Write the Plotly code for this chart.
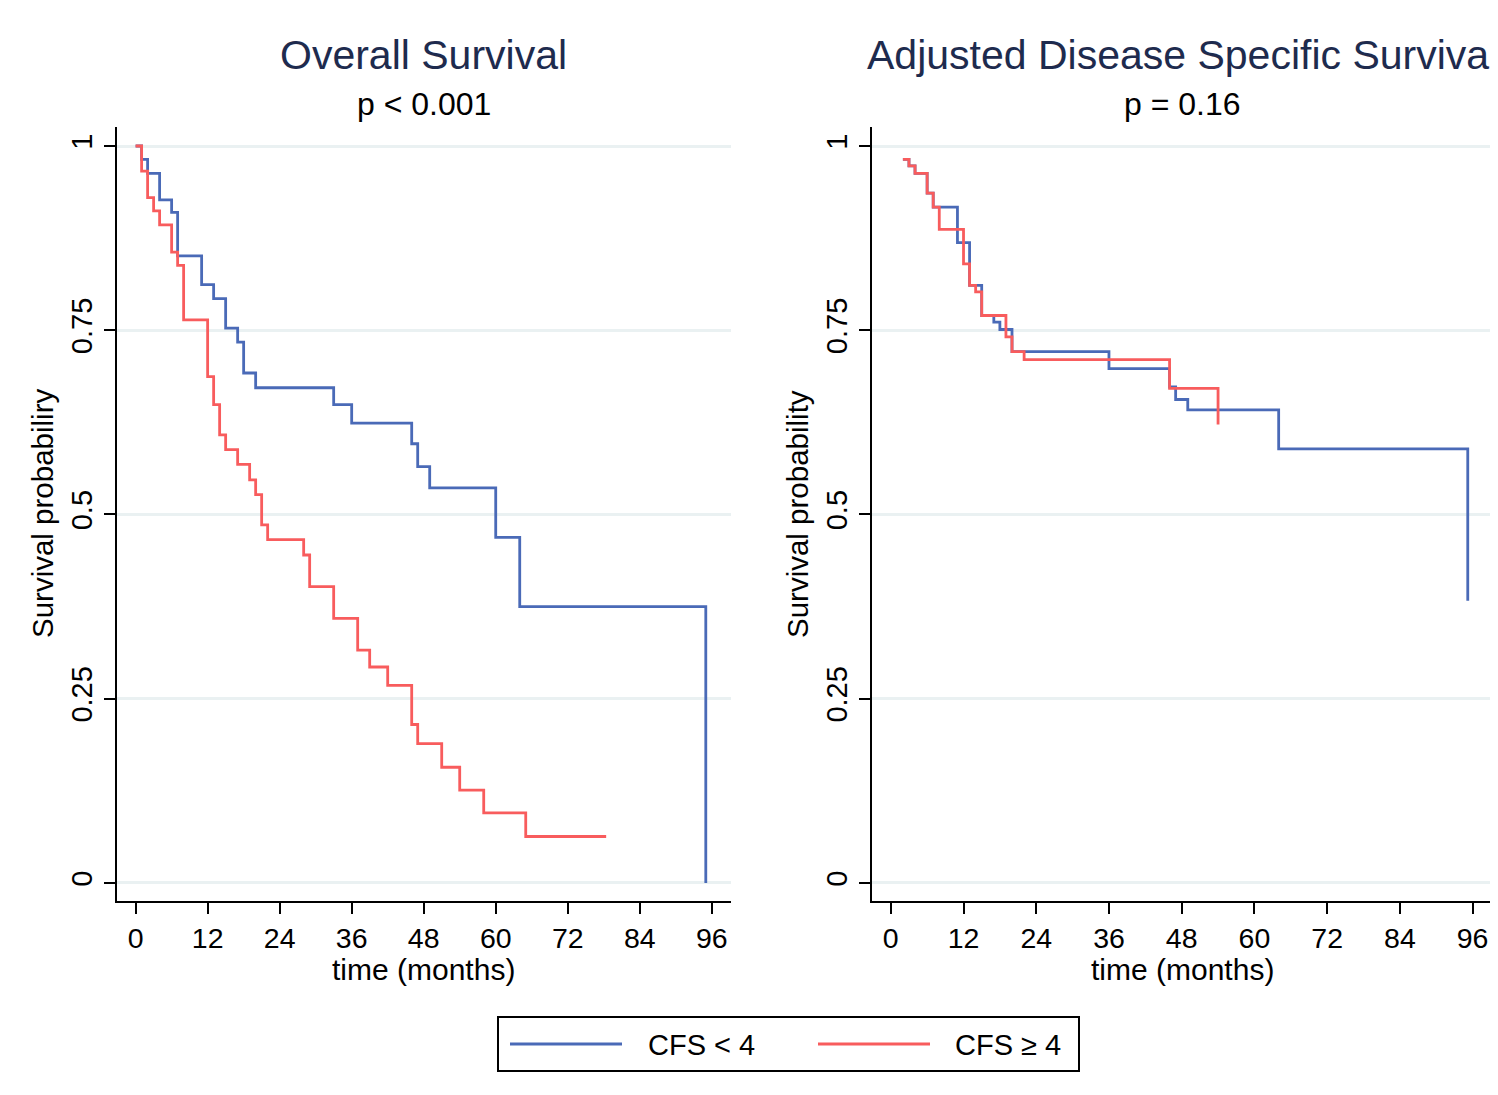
import plotly.graph_objects as go

# ---------------- data ----------------
groups = ["CFS < 4", "CFS \u2265 4"]

os_time_lo = [0, 1, 2, 4, 6, 7, 11, 13, 15, 17, 18, 20, 33, 36, 46, 47, 49, 60, 64, 95]
os_surv_lo = [1, 0.982, 0.963, 0.927, 0.910, 0.851, 0.812, 0.793, 0.753, 0.734,
              0.692, 0.672, 0.649, 0.624, 0.596, 0.565, 0.536, 0.469, 0.375, 0]

os_time_hi = [0, 1, 2, 3, 4, 6, 7, 8, 12, 13, 14, 15, 17, 19, 20, 21, 22, 28, 29,
              33, 37, 39, 42, 46, 47, 51, 54, 58, 65, 78.4]
os_surv_hi = [1, 0.966, 0.930, 0.912, 0.893, 0.856, 0.838, 0.764, 0.687, 0.649,
              0.608, 0.588, 0.568, 0.547, 0.527, 0.486, 0.466, 0.445, 0.402, 0.359,
              0.316, 0.293, 0.268, 0.215, 0.189, 0.157, 0.126, 0.095, 0.063, 0.063]

dss_time_lo = [2, 3, 4, 6, 7, 11, 13, 15, 17, 18, 20, 36, 46, 47, 49, 64, 95.2]
dss_surv_lo = [0.982, 0.973, 0.963, 0.936, 0.917, 0.869, 0.811, 0.770, 0.761, 0.751,
               0.721, 0.698, 0.673, 0.656, 0.642, 0.589, 0.383]

dss_time_hi = [2, 3, 4, 6, 7, 8, 12, 13, 14, 15, 19, 20, 22, 46, 54]
dss_surv_hi = [0.982, 0.973, 0.963, 0.936, 0.917, 0.887, 0.840, 0.811, 0.802, 0.770,
               0.741, 0.721, 0.710, 0.671, 0.622]

x_ticks = [0, 12, 24, 36, 48, 60, 72, 84, 96]
y_ticks = [0, 0.25, 0.5, 0.75, 1]
y_tick_text = ["0", "0.25", "0.5", "0.75", "1"]

titles = ["Overall Survival", "Adjusted Disease Specific Survival"]
pvals = ["p < 0.001", "p = 0.16"]
y_titles = ["Survival probabiliry", "Survival probability"]
x_title = "time (months)"

# ---------------- styling ----------------
REF_W, REF_H = 1498, 1095
OFF = 8                       # page body margin of the browser
W, H = REF_W - OFF, REF_H - OFF
BLUE = "#4A6AB7"
RED = "#F85C5D"
NAVY = "#1E2B4E"
GRID = "#EAF1F2"
FONT = "Liberation Sans, Arial, Helvetica, sans-serif"

def px_x(p):
    return (p - OFF) / W

def px_y(p):
    return (REF_H - p) / H

fig = go.Figure()

fig.add_trace(go.Scatter(x=os_time_lo, y=os_surv_lo, mode="lines", line_shape="hv",
                         line=dict(color=BLUE, width=2.8), name=groups[0],
                         xaxis="x", yaxis="y", showlegend=False))
fig.add_trace(go.Scatter(x=os_time_hi, y=os_surv_hi, mode="lines", line_shape="hv",
                         line=dict(color=RED, width=2.8), name=groups[1],
                         xaxis="x", yaxis="y", showlegend=False))
fig.add_trace(go.Scatter(x=dss_time_lo, y=dss_surv_lo, mode="lines", line_shape="hv",
                         line=dict(color=BLUE, width=2.8), name=groups[0],
                         xaxis="x2", yaxis="y2", showlegend=False))
fig.add_trace(go.Scatter(x=dss_time_hi, y=dss_surv_hi, mode="lines", line_shape="hv",
                         line=dict(color=RED, width=2.8), name=groups[1],
                         xaxis="x2", yaxis="y2", showlegend=False))

ydom = [px_y(901), px_y(127)]
xdom1 = [px_x(117), px_x(731)]
xdom2 = [px_x(872), px_x(1492)]

def xaxis_cfg(dom, anchor):
    return dict(domain=dom, anchor=anchor, range=[-3.1, 99.2],
                tickmode="array", tickvals=x_ticks,
                showline=True, linecolor="black", linewidth=2,
                ticks="outside", ticklen=11, tickwidth=2, tickcolor="black",
                showgrid=False, zeroline=False,
                tickfont=dict(family=FONT, size=28.5, color="black"),
                ticklabelstandoff=0)

def yaxis_cfg(anchor):
    return dict(domain=ydom, anchor=anchor, range=[-0.0245, 1.0258],
                tickmode="array", tickvals=y_ticks, ticktext=y_tick_text,
                tickangle=-90,
                showline=True, linecolor="black", linewidth=2,
                ticks="outside", ticklen=11, tickwidth=2, tickcolor="black",
                showgrid=True, gridcolor=GRID, gridwidth=2.5, zeroline=False,
                tickfont=dict(family=FONT, size=29, color="black"),
                ticklabelstandoff=0)

fig.update_layout(
    width=W, height=H, autosize=False,
    margin=dict(l=0, r=0, t=0, b=0),
    paper_bgcolor="white", plot_bgcolor="white",
    font=dict(family=FONT, color="black"),
    showlegend=False,
    xaxis=xaxis_cfg(xdom1, "y"),
    yaxis=yaxis_cfg("x"),
    xaxis2=xaxis_cfg(xdom2, "y2"),
    yaxis2=yaxis_cfg("x2"),
)

annotations = []
centers = [424, 1182]
ytitle_x = [42, 797]
for i in range(2):
    annotations.append(dict(text=titles[i], x=px_x(centers[i]), y=px_y(55),
                            xref="paper", yref="paper", showarrow=False,
                            xanchor="center", yanchor="middle",
                            font=dict(family=FONT, size=41, color=NAVY)))
    annotations.append(dict(text=pvals[i], x=px_x(centers[i]), y=px_y(104),
                            xref="paper", yref="paper", showarrow=False,
                            xanchor="center", yanchor="middle",
                            font=dict(family=FONT, size=32, color="black")))
    annotations.append(dict(text=x_title, x=px_x(centers[i]), y=px_y(969),
                            xref="paper", yref="paper", showarrow=False,
                            xanchor="center", yanchor="middle",
                            font=dict(family=FONT, size=30, color="black")))
    annotations.append(dict(text=y_titles[i], x=px_x(ytitle_x[i]), y=px_y(514),
                            xref="paper", yref="paper", showarrow=False,
                            textangle=-90, xanchor="center", yanchor="middle",
                            font=dict(family=FONT, size=29.5, color="black")))

# legend (drawn as a boxed key below the panels)
leg_colors = [BLUE, RED]
leg_line_x = [(510, 622), (818, 930)]
leg_text_x = [646, 953]
shapes = [dict(type="rect", xref="paper", yref="paper",
               x0=px_x(498), x1=px_x(1079), y0=px_y(1071), y1=px_y(1017),
               line=dict(color="black", width=2), fillcolor="white")]
for i in range(2):
    shapes.append(dict(type="line", xref="paper", yref="paper",
                       x0=px_x(leg_line_x[i][0]), x1=px_x(leg_line_x[i][1]),
                       y0=px_y(1044), y1=px_y(1044),
                       line=dict(color=leg_colors[i], width=2.8)))
    annotations.append(dict(text=groups[i], x=px_x(leg_text_x[i]), y=px_y(1045),
                            xref="paper", yref="paper", showarrow=False,
                            xanchor="left", yanchor="middle",
                            font=dict(family=FONT, size=29, color="black")))

fig.update_layout(annotations=annotations, shapes=shapes)

fig.write_html("out.html")
